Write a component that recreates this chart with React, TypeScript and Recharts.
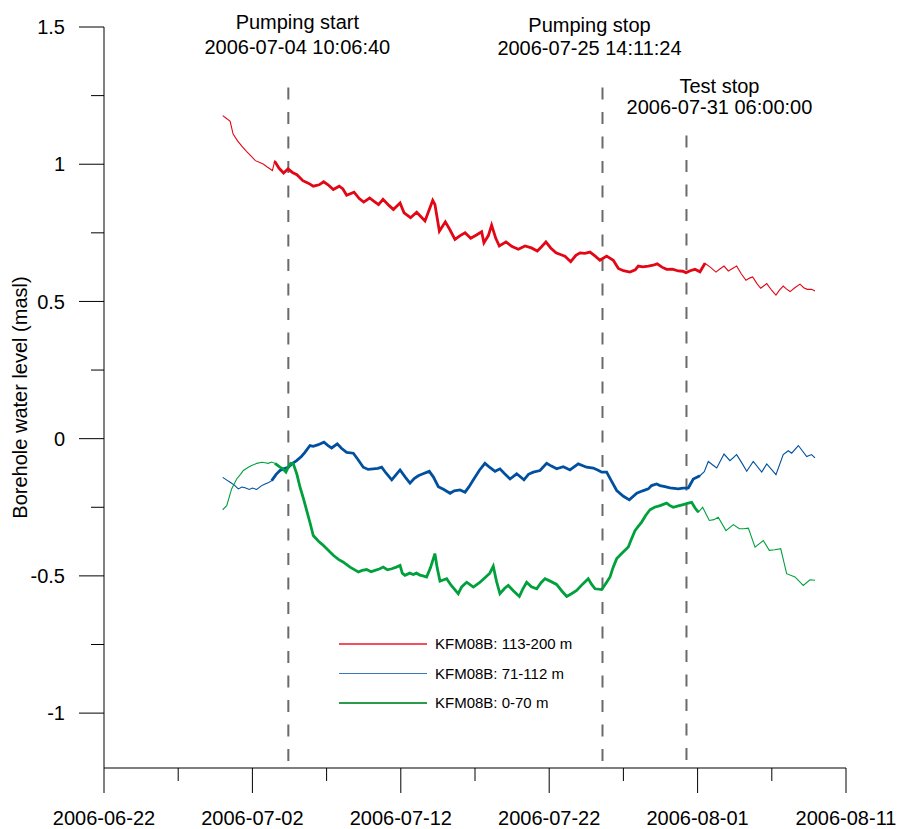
import { LineChart, Line, XAxis, YAxis, ReferenceLine, Legend } from "recharts"

const FONT = '"Liberation Sans", Arial, sans-serif'

// x = days after 2006-06-22 00:00
const xMajorTicks = [0, 10, 20, 30, 40, 50]
const xMajorLabels = ["2006-06-22", "2006-07-02", "2006-07-12", "2006-07-22", "2006-08-01", "2006-08-11"]
const xMinorTicks = [5, 15, 25, 35, 45]
const yMajorTicks = [-1, -0.5, 0, 0.5, 1, 1.5]
const yMajorLabels = ["-1", "-0.5", "0", "0.5", "1", "1.5"]
const yMinorTicks = [-0.75, -0.25, 0.25, 0.75, 1.25]

const eventDays = [12.4213, 33.5913, 39.25]
const eventTitles = ["Pumping start", "Pumping stop", "Test stop"]
const eventTimes = ["2006-07-04 10:06:40", "2006-07-25 14:11:24", "2006-07-31 06:00:00"]
const eventTops = [1.28, 1.28, 1.105]

// [day, level (masl)]
const section113_200: [number, number][] = [
  [8.0, 1.177], [8.3, 1.165], [8.5, 1.156], [8.7, 1.11], [9.0, 1.085], [9.3, 1.065], [9.6, 1.047],
  [9.9, 1.03], [10.2, 1.013], [10.5, 1.006], [10.75, 1.0], [11.0, 0.99], [11.35, 0.977], [11.5, 1.011],
  [11.8, 0.985], [12.1, 0.968], [12.4, 0.983], [12.7, 0.97], [13.0, 0.962], [13.4, 0.94], [13.8, 0.93],
  [14.1, 0.92], [14.5, 0.925], [14.8, 0.936], [15.1, 0.925], [15.45, 0.908], [15.85, 0.92], [16.1, 0.91],
  [16.35, 0.887], [16.85, 0.898], [17.2, 0.875], [17.5, 0.862], [17.9, 0.877], [18.2, 0.865], [18.5, 0.853],
  [18.8, 0.872], [19.2, 0.85], [19.5, 0.835], [19.95, 0.859], [20.22, 0.823], [20.66, 0.805], [21.07, 0.825],
  [21.63, 0.793], [22.15, 0.868], [22.3, 0.853], [22.6, 0.756], [23.0, 0.79], [23.3, 0.762], [23.65, 0.726],
  [24.0, 0.74], [24.33, 0.75], [24.71, 0.73], [25.1, 0.742], [25.45, 0.754], [25.6, 0.714], [25.9, 0.74],
  [26.12, 0.778], [26.4, 0.73], [26.64, 0.702], [27.09, 0.717], [27.5, 0.7], [27.92, 0.69], [28.37, 0.702],
  [28.8, 0.695], [29.2, 0.684], [29.5, 0.7], [29.78, 0.717], [30.1, 0.695], [30.46, 0.677], [30.8, 0.67],
  [31.06, 0.665], [31.45, 0.645], [31.8, 0.668], [32.08, 0.677], [32.4, 0.675], [32.75, 0.68], [33.1, 0.665],
  [33.42, 0.65], [33.87, 0.665], [34.32, 0.65], [34.66, 0.62], [35.0, 0.612], [35.44, 0.607], [35.8, 0.615],
  [36.0, 0.629], [36.3, 0.626], [36.68, 0.629], [37.0, 0.632], [37.28, 0.637], [37.6, 0.625], [37.91, 0.617],
  [38.3, 0.618], [38.7, 0.611], [39.0, 0.61], [39.22, 0.605], [39.5, 0.612], [39.82, 0.617], [40.16, 0.608],
  [40.5, 0.639], [40.85, 0.625], [41.24, 0.607], [41.5, 0.618], [41.78, 0.629], [42.07, 0.611], [42.35, 0.62],
  [42.63, 0.629], [42.95, 0.6], [43.26, 0.577], [43.5, 0.585], [43.71, 0.589], [44.0, 0.565], [44.25, 0.548],
  [44.66, 0.565], [45.0, 0.54], [45.28, 0.523], [45.5, 0.54], [45.77, 0.556], [46.0, 0.545], [46.23, 0.536],
  [46.55, 0.55], [46.9, 0.563], [47.15, 0.55], [47.39, 0.544], [47.68, 0.544], [47.91, 0.538],
]

const section71_112: [number, number][] = [
  [8.0, -0.141], [8.3, -0.152], [8.5, -0.159], [8.8, -0.17], [9.05, -0.183], [9.3, -0.176], [9.5, -0.179],
  [9.79, -0.185], [10.0, -0.18], [10.29, -0.185], [10.6, -0.172], [10.85, -0.165], [11.1, -0.16], [11.3, -0.153],
  [11.6, -0.13], [11.86, -0.116], [12.1, -0.11], [12.42, -0.104], [12.7, -0.09], [12.98, -0.08], [13.3, -0.065],
  [13.54, -0.05], [13.88, -0.025], [14.1, -0.028], [14.44, -0.022], [14.82, -0.013], [15.1, -0.025], [15.34, -0.034],
  [15.72, -0.019], [16.0, -0.035], [16.35, -0.05], [16.8, -0.053], [17.1, -0.075], [17.47, -0.104], [17.8, -0.112],
  [18.15, -0.11], [18.45, -0.108], [18.71, -0.104], [19.0, -0.125], [19.39, -0.15], [19.7, -0.13], [19.95, -0.114],
  [20.3, -0.14], [20.62, -0.162], [20.9, -0.145], [21.18, -0.135], [21.5, -0.128], [21.92, -0.119], [22.2, -0.14],
  [22.53, -0.175], [22.9, -0.185], [23.32, -0.199], [23.6, -0.19], [23.99, -0.187], [24.33, -0.195], [24.6, -0.175],
  [24.89, -0.15], [25.3, -0.115], [25.67, -0.09], [26.0, -0.105], [26.35, -0.119], [26.68, -0.11], [27.0, -0.128],
  [27.36, -0.147], [27.81, -0.128], [28.3, -0.15], [28.6, -0.13], [28.93, -0.122], [29.38, -0.116], [29.83, -0.09],
  [30.15, -0.1], [30.5, -0.11], [30.95, -0.102], [31.4, -0.114], [31.96, -0.092], [32.52, -0.104], [32.97, -0.107],
  [33.3, -0.115], [33.54, -0.122], [33.87, -0.122], [34.2, -0.155], [34.55, -0.189], [35.0, -0.21], [35.4, -0.223],
  [35.9, -0.199], [36.3, -0.19], [36.68, -0.183], [36.9, -0.171], [37.24, -0.165], [37.47, -0.171], [37.8, -0.175],
  [38.14, -0.179], [38.7, -0.183], [39.0, -0.18], [39.38, -0.179], [39.71, -0.147], [40.16, -0.135], [40.45, -0.12],
  [40.72, -0.083], [41.0, -0.095], [41.29, -0.107], [41.78, -0.056], [42.18, -0.08], [42.63, -0.058], [43.0, -0.09],
  [43.31, -0.119], [43.75, -0.083], [44.32, -0.122], [44.66, -0.092], [45.28, -0.131], [45.77, -0.058], [46.11, -0.044],
  [46.34, -0.053], [46.79, -0.025], [47.35, -0.065], [47.68, -0.058], [47.91, -0.07],
]

const section0_70: [number, number][] = [
  [8.0, -0.259], [8.27, -0.244], [8.6, -0.183], [8.94, -0.147], [9.2, -0.13], [9.39, -0.116], [9.7, -0.105],
  [9.95, -0.098], [10.3, -0.09], [10.63, -0.086], [10.85, -0.088], [11.07, -0.09], [11.3, -0.085], [11.52, -0.09],
  [11.86, -0.104], [12.05, -0.11], [12.26, -0.122], [12.45, -0.1], [12.58, -0.09], [12.76, -0.092], [13.0, -0.13],
  [13.21, -0.177], [13.45, -0.22], [13.66, -0.262], [13.9, -0.31], [14.1, -0.353], [14.44, -0.373], [14.7, -0.385],
  [15.01, -0.401], [15.45, -0.425], [15.8, -0.44], [16.13, -0.45], [16.58, -0.468], [16.9, -0.478], [17.14, -0.486],
  [17.4, -0.48], [17.7, -0.477], [18.0, -0.485], [18.26, -0.48], [18.55, -0.475], [18.82, -0.468], [19.1, -0.478],
  [19.39, -0.474], [19.7, -0.468], [19.95, -0.462], [20.1, -0.49], [20.28, -0.498], [20.6, -0.49], [20.84, -0.495],
  [21.05, -0.49], [21.29, -0.497], [21.5, -0.5], [21.74, -0.504], [22.0, -0.47], [22.3, -0.419], [22.45, -0.47],
  [22.64, -0.519], [22.85, -0.515], [23.09, -0.51], [23.4, -0.535], [23.87, -0.565], [24.1, -0.54], [24.44, -0.523],
  [24.89, -0.541], [25.3, -0.525], [25.67, -0.507], [26.0, -0.49], [26.23, -0.465], [26.45, -0.52], [26.68, -0.565],
  [27.0, -0.545], [27.24, -0.535], [27.6, -0.555], [27.99, -0.575], [28.2, -0.55], [28.48, -0.523], [28.8, -0.54],
  [29.16, -0.547], [29.45, -0.525], [29.72, -0.51], [30.1, -0.52], [30.5, -0.531], [30.85, -0.555], [31.18, -0.575],
  [31.5, -0.565], [31.85, -0.553], [32.25, -0.53], [32.63, -0.51], [32.85, -0.53], [33.09, -0.547], [33.54, -0.55],
  [33.85, -0.525], [34.1, -0.504], [34.3, -0.47], [34.55, -0.437], [34.95, -0.415], [35.33, -0.395], [35.55, -0.365],
  [35.78, -0.335], [36.0, -0.32], [36.23, -0.304], [36.5, -0.28], [36.79, -0.259], [37.1, -0.25], [37.47, -0.244],
  [37.91, -0.235], [38.14, -0.244], [38.36, -0.25], [38.7, -0.245], [39.04, -0.24], [39.3, -0.236], [39.6, -0.232],
  [39.82, -0.252], [40.05, -0.268], [40.34, -0.25], [40.79, -0.298], [41.1, -0.295], [41.39, -0.286], [41.91, -0.335],
  [42.41, -0.313], [42.81, -0.328], [43.1, -0.328], [43.42, -0.326], [43.87, -0.395], [44.43, -0.371], [44.83, -0.407],
  [45.2, -0.405], [45.6, -0.401], [46.0, -0.492], [46.56, -0.504], [47.12, -0.535], [47.57, -0.514], [47.91, -0.516],
]

// period with dense logging (drawn heavier), in days
const denseRanges: [number, number][] = [[11.4, 40.5], [11.3, 40.3], [11.5, 40.2]]

const seriesNames = ["KFM08B: 113-200 m", "KFM08B: 71-112 m", "KFM08B: 0-70 m"]
const seriesColors = ["#e30615", "#00509f", "#00a03c"]
const legendColors = ["#f0505c", "#3a78c0", "#2a9a4c"]
const seriesData = [section113_200, section71_112, section0_70]

const toRows = (pts: [number, number][]) => pts.map(([day, level]) => ({ day, level }))

// label placement (px): horizontal shift from the line, baselines of the two rows
const eventLabelStyle = [
  { dx: 9, y1: 29, y2: 54 },
  { dx: -13, y1: 32, y2: 55 },
  { dx: 33, y1: 93, y2: 114 },
]

function XTick({ x, y, payload }: any) {
  const i = xMajorTicks.indexOf(payload.value)
  const major = i >= 0
  return (
    <g>
      <line x1={x} x2={x} y1={y} y2={y + (major ? 25 : 13)} stroke="#000" strokeWidth={1} />
      {major && (
        <text x={x} y={y + 57} textAnchor="middle" fontSize={20} fontFamily={FONT} fill="#000">
          {xMajorLabels[i]}
        </text>
      )}
    </g>
  )
}

function YTick({ x, y, payload }: any) {
  const i = yMajorTicks.indexOf(payload.value)
  const major = i >= 0
  return (
    <g>
      <line x1={x - (major ? 25 : 13)} x2={x} y1={y} y2={y} stroke="#000" strokeWidth={1} />
      {major && (
        <text x={x - 39} y={y} dy="0.36em" textAnchor="end" fontSize={20} fontFamily={FONT} fill="#000">
          {yMajorLabels[i]}
        </text>
      )}
    </g>
  )
}

function YLabel({ viewBox }: any) {
  const cx = 20
  const cy = (viewBox?.y ?? 27) + (viewBox?.height ?? 741) / 2
  return (
    <text
      x={cx}
      y={cy}
      transform={`rotate(-90 ${cx} ${cy})`}
      textAnchor="middle"
      dy="0.36em"
      fontSize={20}
      fontFamily={FONT}
      fill="#000"
    >
      Borehole water level (masl)
    </text>
  )
}

function EventLabel({ viewBox, index }: any) {
  const s = eventLabelStyle[index]
  const cx = (viewBox?.x ?? 0) + s.dx
  return (
    <g fontFamily={FONT} fontSize={20} fill="#000">
      <text x={cx} y={s.y1} textAnchor="middle">{eventTitles[index]}</text>
      <text x={cx} y={s.y2} textAnchor="middle">{eventTimes[index]}</text>
    </g>
  )
}

function LegendBox() {
  return (
    <div style={{ fontFamily: FONT, fontSize: 15, color: "#000" }}>
      {seriesNames.map((name, i) => (
        <div key={name} style={{ display: "flex", alignItems: "center", height: 29.5 }}>
          <div style={{ width: 88, height: 1.5, background: legendColors[i] }} />
          <span style={{ marginLeft: 8, whiteSpace: "nowrap" }}>{name}</span>
        </div>
      ))}
    </div>
  )
}

export default function App() {
  const xTicks = [...xMajorTicks, ...xMinorTicks].sort((a, b) => a - b)
  const yTicks = [...yMajorTicks, ...yMinorTicks].sort((a, b) => a - b)

  return (
    <div style={{ width: 898, height: 829, fontFamily: FONT, background: "#fff" }}>
      {/* the chart fills the whole 898x829 window */}
      <style>{`body { margin: 0; }`}</style>
      <LineChart width={898} height={829} margin={{ top: 27, right: 52, left: 0, bottom: 0 }}>
        <XAxis
          dataKey="day"
          type="number"
          domain={[0, 50]}
          ticks={xTicks}
          interval={0}
          tick={<XTick />}
          tickLine={false}
          tickSize={0}
          tickMargin={0}
          height={61}
          axisLine={{ stroke: "#555", strokeWidth: 1.5 }}
        />
        <YAxis
          type="number"
          domain={[-1.2, 1.5]}
          ticks={yTicks}
          interval={0}
          tick={<YTick />}
          tickLine={false}
          tickSize={0}
          tickMargin={0}
          width={104}
          axisLine={{ stroke: "#000", strokeWidth: 1 }}
          label={<YLabel />}
        />

        {eventDays.map((d, i) => (
          <ReferenceLine
            key={eventTitles[i]}
            segment={[
              { x: d, y: eventTops[i] },
              { x: d, y: -1.2 },
            ]}
            stroke="#6a6a6a"
            strokeWidth={2}
            strokeDasharray="12 12.5"
            label={<EventLabel index={i} />}
          />
        ))}

        {seriesData.map((pts, i) => (
          <Line
            key={seriesNames[i]}
            data={toRows(pts)}
            dataKey="level"
            name={seriesNames[i]}
            type="linear"
            stroke={seriesColors[i]}
            strokeWidth={1.1}
            dot={false}
            activeDot={false}
            isAnimationActive={false}
          />
        ))}
        {seriesData.map((pts, i) => (
          <Line
            key={seriesNames[i] + "-dense"}
            data={toRows(pts.filter(([d]) => d >= denseRanges[i][0] && d <= denseRanges[i][1]))}
            dataKey="level"
            name={seriesNames[i] + " dense"}
            legendType="none"
            type="linear"
            stroke={seriesColors[i]}
            strokeWidth={2.8}
            dot={false}
            activeDot={false}
            isAnimationActive={false}
          />
        ))}

        <Legend
          layout="vertical"
          align="center"
          verticalAlign="middle"
          wrapperStyle={{ position: "absolute", left: 339, top: 629, width: 280, height: 90 }}
          content={<LegendBox />}
        />
      </LineChart>
    </div>
  )
}
